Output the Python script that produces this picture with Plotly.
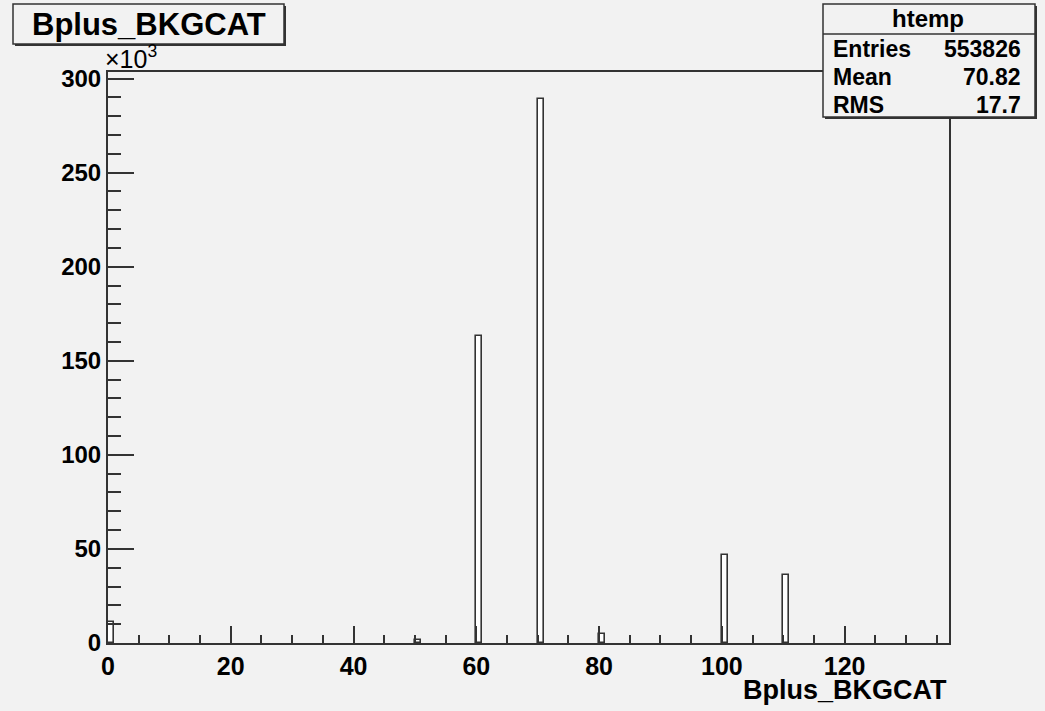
import plotly.graph_objects as go

W, H = 1045, 711

# ---- data ----
bin_lefts = [0, 50, 60, 70, 80, 100, 110]
counts = [11200, 1800, 163200, 288900, 5000, 46800, 36200]
bin_width = 1.0
x_range = [0, 137]
y_range_k = [0, 303.5]
x_tick_vals = [0, 20, 40, 60, 80, 100, 120]
y_tick_vals_k = [0, 50, 100, 150, 200, 250, 300]
stats_labels = ["Entries", "Mean", "RMS"]
stats_values = ["553826", "70.82", "17.7"]
hist_name = "htemp"
var_name = "Bplus_BKGCAT"

BG = "#f2f2f2"
INK = "#333333"
FONT = "Liberation Sans, Arial, sans-serif"

def px(x):
    return x / W

def py(y):
    return 1 - y / H

L, R, T, B = 108, 949, 72, 643

centers = [b + bin_width / 2 for b in bin_lefts]
counts_k = [c / 1000 for c in counts]

fig = go.Figure()
fig.add_trace(go.Bar(
    x=centers, y=counts_k, width=bin_width,
    marker=dict(color="white", line=dict(color=INK, width=1.6)),
    showlegend=False, hoverinfo="x+y",
))

fig.update_layout(
    width=W, height=H,
    margin=dict(l=0, r=0, t=0, b=0),
    paper_bgcolor=BG, plot_bgcolor=BG,
    bargap=0,
    font=dict(family=FONT, color="black"),
    xaxis=dict(
        domain=[px(L), px(R)], range=x_range, automargin=False,
        showgrid=False, zeroline=False,
        showline=True, linecolor=INK, linewidth=2, mirror=True,
        ticks="inside", ticklen=17, tickwidth=1.5, tickcolor=INK,
        tickvals=x_tick_vals,
        tickfont=dict(size=25, family=FONT, weight="bold", color="black"),
        minor=dict(dtick=5, ticks="inside", ticklen=8, tickwidth=1.5, tickcolor=INK, showgrid=False),
    ),
    yaxis=dict(
        domain=[py(B), py(T)], range=y_range_k, automargin=False,
        showgrid=False, zeroline=False,
        showline=True, linecolor=INK, linewidth=2, mirror=True,
        ticks="inside", ticklen=26, tickwidth=1.5, tickcolor=INK,
        tickvals=y_tick_vals_k,
        tickfont=dict(size=24, family=FONT, weight="bold", color="black"),
        minor=dict(dtick=10, ticks="inside", ticklen=13, tickwidth=1.5, tickcolor=INK, showgrid=False),
    ),
)

shapes = []
annotations = []

def box_with_shadow(x0, y0, x1, y1):
    shapes.append(dict(type="rect", xref="paper", yref="paper",
                       x0=px(x0 + 2), x1=px(x1 + 2), y0=py(y1 + 2), y1=py(y0 + 2),
                       fillcolor=INK, line=dict(width=0), layer="above"))
    shapes.append(dict(type="rect", xref="paper", yref="paper",
                       x0=px(x0), x1=px(x1), y0=py(y1), y1=py(y0),
                       fillcolor=BG, line=dict(color=INK, width=1.5), layer="above"))

# title box
box_with_shadow(13, 4, 284, 44)
annotations.append(dict(text=var_name, xref="paper", yref="paper",
                        x=px(148.5), y=py(24), showarrow=False,
                        xanchor="center", yanchor="middle",
                        font=dict(size=31, family=FONT, weight="bold", color="black")))

# stats box
box_with_shadow(823, 4, 1035, 117)
shapes.append(dict(type="line", xref="paper", yref="paper",
                   x0=px(823), x1=px(1035), y0=py(34), y1=py(34),
                   line=dict(color=INK, width=1.5), layer="above"))
annotations.append(dict(text=hist_name, xref="paper", yref="paper",
                        x=px(928), y=py(19), showarrow=False,
                        xanchor="center", yanchor="middle",
                        font=dict(size=24, family=FONT, weight="bold", color="black")))
row_y = [49, 77, 105]
for lab, val, yy in zip(stats_labels, stats_values, row_y):
    annotations.append(dict(text=lab, xref="paper", yref="paper",
                            x=px(831), y=py(yy), showarrow=False,
                            xanchor="left", yanchor="middle",
                            font=dict(size=23, family=FONT, weight="bold", color="black")))
    annotations.append(dict(text=val, xref="paper", yref="paper",
                            x=px(1023), y=py(yy), showarrow=False,
                            xanchor="right", yanchor="middle",
                            font=dict(size=23, family=FONT, weight="bold", color="black")))

# exponent label
annotations.append(dict(text="×10<sup>3</sup>", xref="paper", yref="paper",
                        x=px(103), y=py(75), showarrow=False,
                        xanchor="left", yanchor="bottom",
                        font=dict(size=25, family=FONT, color="black")))

# x-axis title
annotations.append(dict(text=var_name, xref="paper", yref="paper",
                        x=px(949), y=py(690), showarrow=False,
                        xanchor="right", yanchor="middle",
                        font=dict(size=27, family=FONT, weight="bold", color="black")))

fig.update_layout(shapes=shapes, annotations=annotations)
fig.write_html("out.html")
